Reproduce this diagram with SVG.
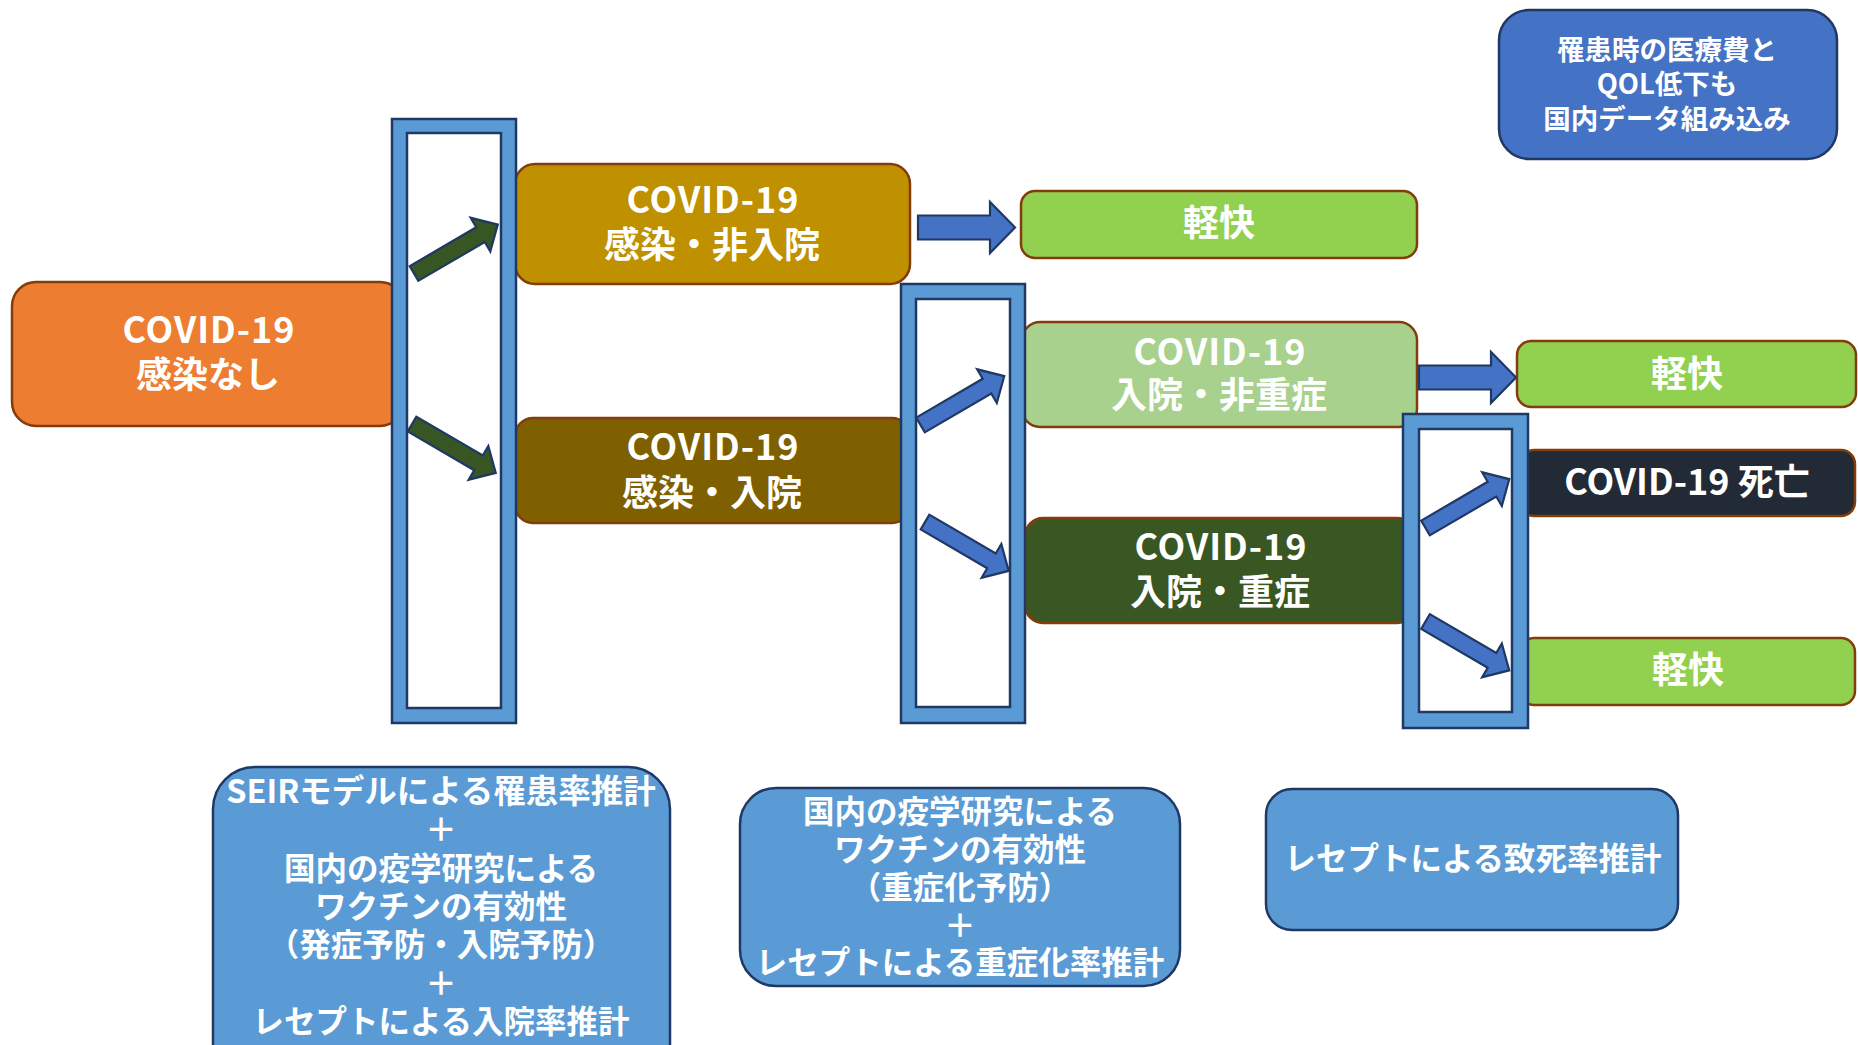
<svg xmlns="http://www.w3.org/2000/svg" xmlns:xlink="http://www.w3.org/1999/xlink" width="1858" height="1045" viewBox="0 0 1858 1045">
<style>
.t{font-family:"Noto Sans CJK JP","Noto Sans",sans-serif;font-weight:700;fill:#fff;text-anchor:middle}
.n{font-size:36px}
.c{letter-spacing:1px}
.s{font-size:31.5px}
.q{font-size:27.5px}
.nb{stroke:#843C0C;stroke-width:2.5}
.ib{fill:#5B9BD5;stroke:#1F3864;stroke-width:2.5}
.fo{fill:#5B9BD5;stroke:#1F3864;stroke-width:2.5}
.fi{fill:#fff;stroke:#1F3864;stroke-width:2.5}
.ga{fill:#375623;stroke:#1F3864;stroke-width:2.2}
.ba{fill:#4472C4;stroke:#1F3864;stroke-width:2.2}
</style>
<defs>
<polygon id="da" points="0,-8.5 77,-8.5 77,-19.5 97,0 77,19.5 77,8.5 0,8.5"/>
<polygon id="ha" points="0,-12 72,-12 72,-25.5 97,0 72,25.5 72,12 0,12"/>
</defs>
<rect width="1858" height="1045" fill="#fff"/>

<g id="node-none">
<rect class="nb" x="12" y="282" width="392" height="144" rx="24" fill="#ED7D31"/>
<text class="t n c" x="209" y="343">COVID-19</text>
<text class="t n" x="208" y="388">感染なし</text>
</g>
<g id="node-inf-nonhosp">
<rect class="nb" x="515" y="164" width="395" height="120" rx="20" fill="#BF9000"/>
<text class="t n c" x="713" y="213">COVID-19</text>
<text class="t n" x="712" y="258">感染・非入院</text>
</g>
<g id="node-inf-hosp">
<rect class="nb" x="515" y="418" width="395" height="105" rx="18" fill="#7F6000"/>
<text class="t n c" x="713" y="460">COVID-19</text>
<text class="t n" x="712" y="506">感染・入院</text>
</g>
<g id="node-recover1">
<rect class="nb" x="1021" y="191" width="396" height="67" rx="14" fill="#92D050"/>
<text class="t n" x="1219" y="236">軽快</text>
</g>
<g id="node-hosp-mild">
<rect class="nb" x="1022" y="322" width="395" height="105" rx="18" fill="#A9D18E"/>
<text class="t n c" x="1220" y="365">COVID-19</text>
<text class="t n" x="1219" y="408">入院・非重症</text>
</g>
<g id="node-hosp-severe">
<rect class="nb" x="1025" y="518" width="390" height="105" rx="18" fill="#385723"/>
<text class="t n c" x="1221" y="560">COVID-19</text>
<text class="t n" x="1220" y="605">入院・重症</text>
</g>
<g id="node-recover2">
<rect class="nb" x="1517" y="341" width="339" height="66" rx="14" fill="#92D050"/>
<text class="t n" x="1687" y="387">軽快</text>
</g>
<g id="node-death">
<rect class="nb" x="1520" y="450" width="335" height="66" rx="14" fill="#222A35"/>
<text class="t n" x="1687" y="495">COVID-19 死亡</text>
</g>
<g id="node-recover3">
<rect class="nb" x="1520" y="638" width="335" height="67" rx="14" fill="#92D050"/>
<text class="t n" x="1688" y="683">軽快</text>
</g>

<g id="frame1">
<rect class="fo" x="392" y="119" width="124" height="604"/>
<rect class="fi" x="407" y="133" width="94" height="575"/>
</g>
<g id="frame2">
<rect class="fo" x="901" y="284" width="124" height="439"/>
<rect class="fi" x="916" y="299" width="94" height="408"/>
</g>
<g id="frame3">
<rect class="fo" x="1403" y="414" width="125" height="314"/>
<rect class="fi" x="1419" y="429" width="93" height="283"/>
</g>

<g id="connectors">
<use xlink:href="#da" class="ga" transform="translate(414,273.5) rotate(-30.3)"/>
<use xlink:href="#da" class="ga" transform="translate(412,424) rotate(30.3)"/>
<use xlink:href="#da" class="ba" transform="translate(920.5,425) rotate(-30.3)"/>
<use xlink:href="#da" class="ba" transform="translate(925,522) rotate(30.3)"/>
<use xlink:href="#da" class="ba" transform="translate(1425.5,528) rotate(-30.3)"/>
<use xlink:href="#da" class="ba" transform="translate(1425.5,621.5) rotate(30.3)"/>
<use xlink:href="#ha" class="ba" transform="translate(918,227.5)"/>
<use xlink:href="#ha" class="ba" transform="translate(1419,377.5)"/>
</g>

<g id="note-qol">
<rect x="1499" y="10" width="338" height="149" rx="30" fill="#4472C4" stroke="#1F3864" stroke-width="2.5"/>
<text class="t q" x="1667" y="60">罹患時の医療費と</text>
<text class="t q" x="1667" y="94">QOL低下も</text>
<text class="t q" x="1667" y="129">国内データ組み込み</text>
</g>
<g id="note-hosp">
<rect class="ib" x="213" y="767" width="457" height="330" rx="42"/>
<text class="t" style="font-size:32.5px" x="441" y="803">SEIRモデルによる罹患率推計</text>
<text class="t s" x="441" y="841">＋</text>
<text class="t s" x="441" y="879.5">国内の疫学研究による</text>
<text class="t s" x="441" y="918">ワクチンの有効性</text>
<text class="t s" x="441" y="956">（発症予防・入院予防）</text>
<text class="t s" x="441" y="994.5">＋</text>
<text class="t s" x="441" y="1033">レセプトによる入院率推計</text>
</g>
<g id="note-severe">
<rect class="ib" x="740" y="788" width="440" height="198" rx="36"/>
<text class="t s" x="960" y="822.5">国内の疫学研究による</text>
<text class="t s" x="960" y="860.5">ワクチンの有効性</text>
<text class="t s" x="960" y="898.5">（重症化予防）</text>
<text class="t s" x="960" y="936.5">＋</text>
<text class="t s" x="960" y="973.5">レセプトによる重症化率推計</text>
</g>
<g id="note-death">
<rect class="ib" x="1266" y="789" width="412" height="141" rx="26"/>
<text class="t s" x="1473" y="869.5">レセプトによる致死率推計</text>
</g>
</svg>
